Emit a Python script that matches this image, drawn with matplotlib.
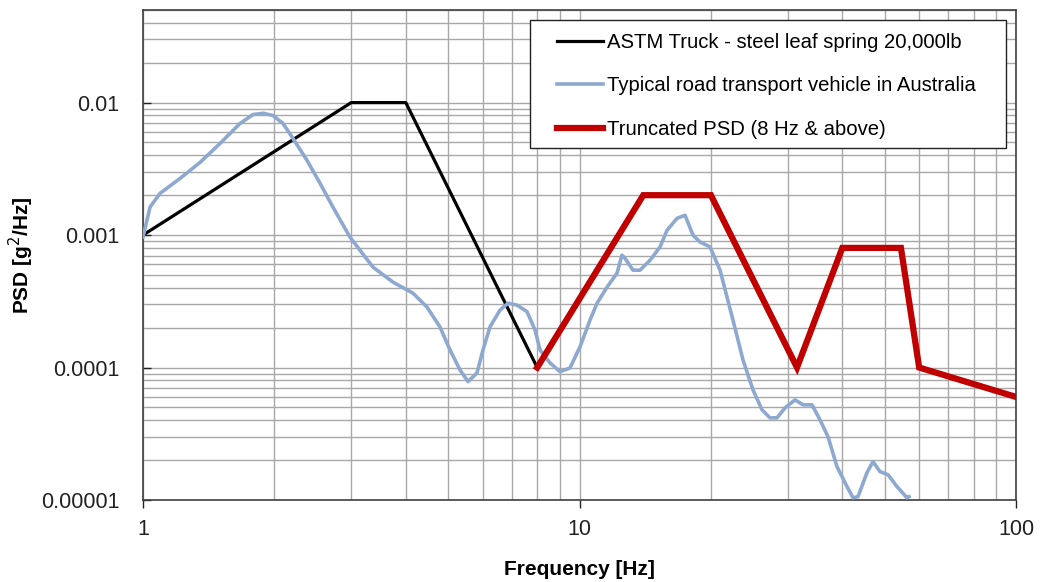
import matplotlib
matplotlib.use("Agg")
import matplotlib.pyplot as plt
from matplotlib.ticker import FixedLocator, FixedFormatter, LogLocator, NullFormatter
from matplotlib.patches import Rectangle

plt.rcParams['font.family'] = ['Liberation Sans', 'DejaVu Sans']

# ASTM Truck
astm_f = [1, 3, 4, 8]
astm_psd = [0.001, 0.01, 0.01, 0.0001]

# Truncated PSD
trunc_f = [8, 14, 20, 31.5, 40, 54.5, 60, 100]
trunc_psd = [0.0001, 0.002, 0.002, 0.0001, 0.0008, 0.0008, 0.0001, 0.00006]

# Typical road transport vehicle in Australia
road_f = [1.0, 1.038, 1.094, 1.216, 1.351, 1.501, 1.668, 1.786, 1.884, 1.986,
          2.093, 2.206, 2.376, 2.545, 2.725, 2.981, 3.365, 3.739, 4.155, 4.473,
          4.791, 5.051, 5.324, 5.554, 5.823, 6.010, 6.237, 6.574, 6.858, 7.192,
          7.581, 7.909, 8.121, 8.561, 9.023, 9.511, 10.03, 10.57, 10.97, 11.56,
          12.19, 12.51, 12.71, 13.26, 13.76, 14.51, 15.29, 15.87, 16.73, 17.45,
          18.20, 18.88, 19.91, 20.99, 22.47, 23.69, 24.97, 26.19, 27.32, 28.35,
          29.57, 31.17, 32.51, 34.09, 35.56, 37.10, 38.90, 41.01, 42.33, 43.45,
          45.56, 47.03, 48.80, 50.91, 53.38, 56.27, 56.87]
road_psd = [9.67e-4, 1.628e-3, 2.064e-3, 2.677e-3, 3.534e-3, 4.91e-3, 6.95e-3, 8.12e-3, 8.31e-3, 7.98e-3,
            6.95e-3, 5.36e-3, 3.66e-3, 2.455e-3, 1.62e-3, 9.62e-4, 5.72e-4, 4.41e-4, 3.64e-4, 2.86e-4,
            2.02e-4, 1.357e-4, 9.59e-5, 7.83e-5, 9.11e-5, 1.357e-4, 2.03e-4, 2.71e-4, 3.06e-4, 2.96e-4,
            2.64e-4, 1.92e-4, 1.357e-4, 1.083e-4, 9.31e-5, 9.93e-5, 1.437e-4, 2.28e-4, 3.06e-4, 4.04e-4,
            5.16e-4, 7.05e-4, 6.69e-4, 5.43e-4, 5.43e-4, 6.46e-4, 8.13e-4, 1.087e-3, 1.338e-3, 1.41e-3,
            9.97e-4, 8.87e-4, 8.13e-4, 5.43e-4, 2.28e-4, 1.141e-4, 6.78e-5, 4.79e-5, 4.17e-5, 4.17e-5,
            4.96e-5, 5.70e-5, 5.23e-5, 5.23e-5, 4.03e-5, 3.0e-5, 1.784e-5, 1.262e-5, 1.04e-5, 1.06e-5,
            1.608e-5, 1.946e-5, 1.637e-5, 1.553e-5, 1.262e-5, 1.04e-5, 1.06e-5]

x_ticks = [1, 10, 100]
x_tick_labels = ["1", "10", "100"]
y_ticks = [1e-5, 1e-4, 1e-3, 1e-2]
y_tick_labels = ["0.00001", "0.0001", "0.001", "0.01"]

labels = ["ASTM Truck - steel leaf spring 20,000lb",
          "Typical road transport vehicle in Australia",
          "Truncated PSD (8 Hz & above)"]

W, H = 1043, 582
fig = plt.figure(figsize=(W / 100, H / 100), dpi=100)
ax = fig.add_axes([143 / W, 1 - 500 / H, (1016 - 143) / W, (500 - 10) / H])

ax.set_xscale('log')
ax.set_yscale('log')
ax.set_xlim(1, 100)
ax.set_ylim(1e-5, 0.05)

ax.plot(astm_f, astm_psd, color='#000000', lw=2.3, label=labels[0], zorder=3)
ax.plot(road_f, road_psd, color='#8EA9CF', lw=2.6, label=labels[1], zorder=3,
        solid_joinstyle='round')
ax.plot(trunc_f, trunc_psd, color='#C00000', lw=4.5, label=labels[2], zorder=4,
        solid_joinstyle='miter')

ax.xaxis.set_major_locator(FixedLocator(x_ticks))
ax.xaxis.set_major_formatter(FixedFormatter(x_tick_labels))
ax.yaxis.set_major_locator(FixedLocator(y_ticks))
ax.yaxis.set_major_formatter(FixedFormatter(y_tick_labels))
ax.xaxis.set_minor_locator(LogLocator(base=10, subs=range(2, 10)))
ax.yaxis.set_minor_locator(LogLocator(base=10, subs=range(2, 10)))
ax.xaxis.set_minor_formatter(NullFormatter())
ax.yaxis.set_minor_formatter(NullFormatter())

ax.grid(True, which='both', color='#a8a8a8', lw=1.0)
ax.set_axisbelow(True)

ax.tick_params(axis='x', which='major', direction='out', length=6, width=1,
               labelsize=15.5, pad=8, colors='#222222')
ax.tick_params(axis='y', which='major', direction='in', length=6, width=1,
               labelsize=15.5, pad=17, colors='#222222')
ax.tick_params(which='minor', length=0)

for s in ax.spines.values():
    s.set_color('#404040')
    s.set_linewidth(1.2)

ax.set_xlabel('Frequency [Hz]', fontsize=15, fontweight='bold', labelpad=14)
ax.set_ylabel('PSD [g$^2$/Hz]', fontsize=15, fontweight='bold', labelpad=3.5)

# legend frame
frame = Rectangle((530 / W, 1 - 148 / H), (1006 - 530) / W, 128 / H,
                  transform=fig.transFigure, facecolor='white', edgecolor='#222222',
                  lw=1.0, zorder=4.9, clip_on=False)
ax.add_patch(frame)

leg = ax.legend(loc='upper left', bbox_to_anchor=(557 / W, 1 - 33 / H),
                bbox_transform=fig.transFigure, borderaxespad=0, borderpad=0,
                fontsize=14.6, frameon=False, handlelength=2.25, handletextpad=0.2,
                labelspacing=1.2)
leg.set_zorder(5)

fig.savefig('out.png', dpi=100)
